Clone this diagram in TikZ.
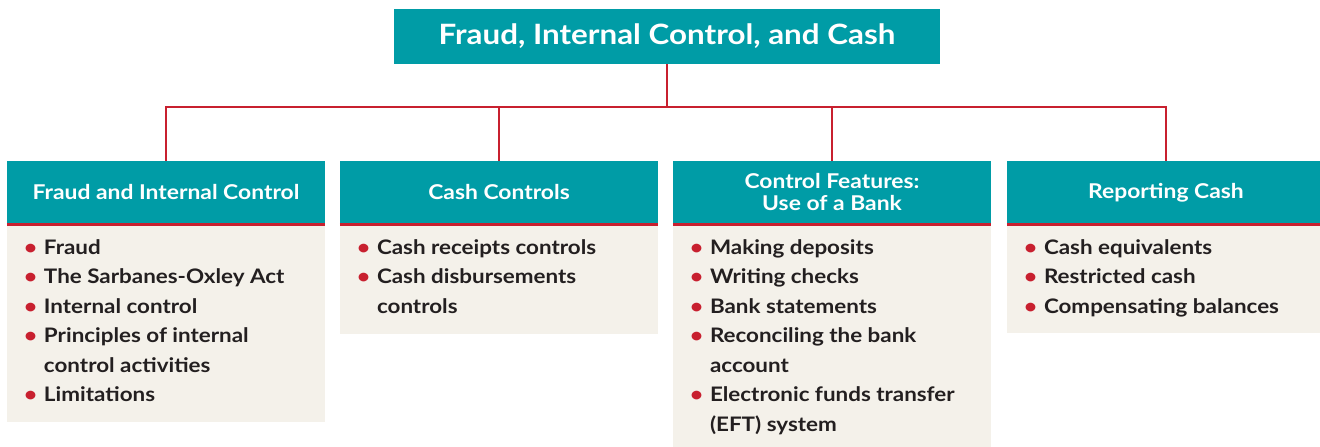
\documentclass[tikz,border=0pt]{standalone}
\usepackage{fontspec}
\setmainfont{Lato}[FakeStretch=1.12]
\definecolor{hdteal}{HTML}{009CA6}
\definecolor{linkred}{HTML}{C8202F}
\definecolor{bodybg}{HTML}{F4F1EA}
\definecolor{bodytxt}{HTML}{231F20}
\newcommand{\itm}[1]{\par\noindent\llap{\textcolor{linkred}{\textbullet}\hspace{7pt}}\rule{0pt}{20pt}#1}
\newcommand{\bodylist}[2]{\parbox[c][#1][t]{318pt}{\parskip=0pt\raggedright\leftskip=37pt\fontsize{20}{29.5}\selectfont\color{bodytxt}\vspace*{10pt}#2}}
\tikzset{
  titlebox/.style={fill=hdteal, text=white, minimum width=546pt, minimum height=55pt, inner sep=0pt, font=\bfseries\fontsize{28}{30}\selectfont},
  hdbox/.style={fill=hdteal, text=white, minimum width=318pt, minimum height=63pt, inner sep=0pt, align=center, font=\bfseries\fontsize{20.4}{22}\selectfont},
  bodybox/.style={fill=bodybg, inner sep=0pt, anchor=north, font=\bfseries},
  link/.style={draw=linkred, line width=2.2pt},
}
\begin{document}
\begin{tikzpicture}[x=1pt, y=-1pt]
	\useasboundingbox (0,0) rectangle (1320,447);
	\node[titlebox] (title) at (667,36.5) {Fraud, Internal Control, and Cash};
	\foreach \x/\name/\head in {166/a/{Fraud and Internal Control}, 499/b/{Cash Controls}, 832/c/{Control Features:\\Use of a Bank}, 1166/d/{Reporting Cash}} {
		\node[hdbox] (hd\name) at (\x, 192.5) {\head};
	}
	
	\node[bodybox] (ba) at (hda.south) {\bodylist{198pt}{%
		\itm{Fraud}
		\itm{The Sarbanes-Oxley Act}
		\itm{Internal control}
		\itm{Principles of internal\\control activities}
		\itm{Limitations}}};
	\node[bodybox] (bb) at (hdb.south) {\bodylist{110pt}{%
		\itm{Cash receipts controls}
		\itm{Cash disbursements\\controls}}};
	\node[bodybox] (bc) at (hdc.south) {\bodylist{224pt}{%
		\itm{Making deposits}
		\itm{Writing checks}
		\itm{Bank statements}
		\itm{Reconciling the bank\\account}
		\itm{Electronic funds transfer\\(EFT) system}}};
	\node[bodybox] (bd) at (hdd.south) {\bodylist{109pt}{%
		\itm{Cash equivalents}
		\itm{Restricted cash}
		\itm{Compensating balances}}};
	
	\foreach \name in {a, b, c, d} {
		\draw[linkred, line width=3pt] (hd\name.south west) -- (hd\name.south east);
	}
	
	\coordinate (bus) at (667,107);
	\draw[link] (title.south) -- (bus);
	\draw[link] (hda.north) |- (bus) -| (hdd.north);
	\draw[link] (hdb.north) -- (hdb.north |- bus);
	\draw[link] (hdc.north) -- (hdc.north |- bus);
\end{tikzpicture}
\end{document}
